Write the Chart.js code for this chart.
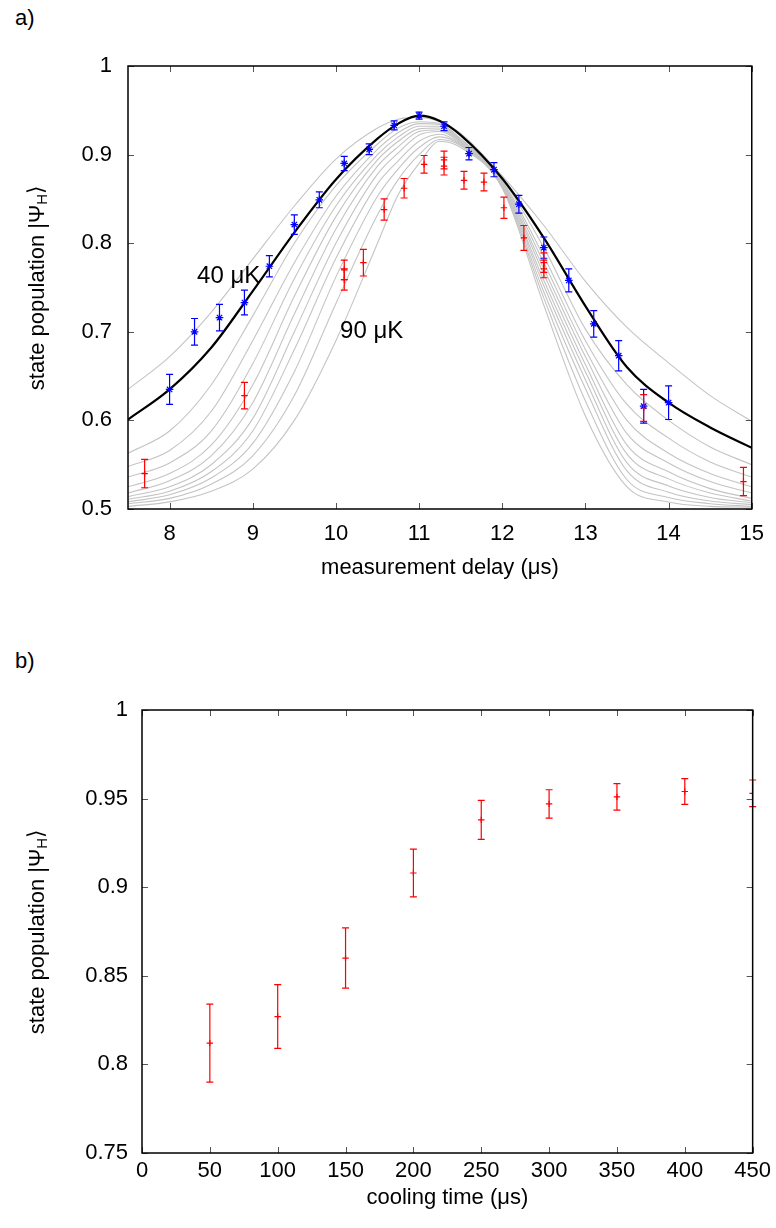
<!DOCTYPE html>
<html><head><meta charset="utf-8">
<script src="https://cdn.jsdelivr.net/npm/chart.js@4.4.1/dist/chart.umd.min.js"></script>
<style>
html,body{margin:0;padding:0;background:#fff;}
#wrap{position:relative;width:776px;height:1228px;overflow:hidden;}
canvas{position:absolute;left:0;}
#c1{top:0;}
#c2{top:640px;}
.lab{position:absolute;font-family:'Liberation Sans',Arial,sans-serif;font-size:22px;color:#000;}
</style></head><body>
<div id="wrap">
<div class="lab" style="left:15px;top:5px;">a)</div>
<div class="lab" style="left:15px;top:648px;">b)</div>
<canvas id="c1" width="776" height="600" style="width:776px;height:600px"></canvas>
<canvas id="c2" width="776" height="588" style="width:776px;height:588px"></canvas>
</div>
<script>
// ---------- panel a) data ----------
const curveT   = [7.5, 8, 8.5, 9, 9.5, 10, 10.5, 10.75, 11, 11.25, 11.5, 12, 12.5, 13, 13.5, 14, 14.5, 15];
const fitCurve = [0.601,0.635,0.682,0.746,0.812,0.872,0.918,0.935,0.944,0.938,0.922,0.873,0.806,0.729,0.660,0.620,0.592,0.569];
const curve40  = [0.635,0.672,0.722,0.782,0.842,0.895,0.930,0.940,0.942,0.937,0.924,0.876,0.820,0.757,0.705,0.665,0.628,0.599];
const curve45  = [0.563,0.588,0.640,0.718,0.800,0.865,0.912,0.930,0.937,0.935,0.918,0.872,0.795,0.703,0.640,0.600,0.570,0.550];
const curve50  = [0.548,0.566,0.610,0.690,0.778,0.853,0.906,0.925,0.935,0.934,0.917,0.870,0.785,0.690,0.618,0.580,0.553,0.536];
const curve55  = [0.536,0.552,0.588,0.664,0.760,0.842,0.900,0.920,0.932,0.932,0.916,0.869,0.778,0.680,0.600,0.563,0.540,0.525];
const curve60  = [0.525,0.540,0.572,0.640,0.740,0.830,0.894,0.915,0.929,0.930,0.915,0.868,0.771,0.672,0.585,0.552,0.531,0.518];
const curve65  = [0.518,0.532,0.560,0.620,0.720,0.816,0.887,0.909,0.926,0.928,0.914,0.867,0.765,0.663,0.572,0.542,0.523,0.512];
const curve70  = [0.514,0.525,0.550,0.602,0.700,0.800,0.878,0.902,0.922,0.926,0.913,0.866,0.758,0.655,0.562,0.534,0.518,0.509];
const curve75  = [0.511,0.520,0.542,0.588,0.680,0.783,0.867,0.893,0.915,0.923,0.912,0.865,0.752,0.646,0.552,0.526,0.513,0.507];
const curve80  = [0.508,0.516,0.535,0.574,0.655,0.762,0.853,0.884,0.908,0.920,0.911,0.864,0.745,0.636,0.543,0.519,0.509,0.505];
const curve85  = [0.506,0.512,0.528,0.560,0.628,0.732,0.832,0.872,0.900,0.917,0.910,0.863,0.738,0.622,0.533,0.513,0.506,0.503];
const curve90  = [0.503,0.508,0.520,0.545,0.600,0.690,0.800,0.855,0.890,0.915,0.908,0.862,0.730,0.605,0.525,0.508,0.503,0.502];

const blueX   = [8.0,8.3,8.6,8.9,9.2,9.5,9.8,10.1,10.4,10.7,11.0,11.3,11.6,11.9,12.2,12.5,12.8,13.1,13.4,13.7,14.0];
const blueY   = [0.635,0.700,0.716,0.733,0.774,0.821,0.849,0.890,0.906,0.933,0.944,0.932,0.901,0.883,0.844,0.795,0.758,0.709,0.673,0.616,0.620];
const blueErr = [0.017,0.015,0.015,0.014,0.012,0.011,0.009,0.008,0.006,0.005,0.004,0.005,0.007,0.008,0.010,0.012,0.013,0.015,0.017,0.019,0.019];

const redX   = [7.7,8.9,10.1,10.1,10.33,10.58,10.82,11.06,11.3,11.3,11.54,11.78,12.02,12.26,12.5,12.5,13.7,14.9];
const redY   = [0.540,0.628,0.770,0.759,0.778,0.838,0.862,0.889,0.894,0.887,0.871,0.869,0.840,0.806,0.778,0.771,0.614,0.531];
const redErr = [0.016,0.015,0.011,0.012,0.015,0.012,0.011,0.010,0.010,0.010,0.010,0.010,0.012,0.014,0.011,0.010,0.015,0.016];

const xTicksA = [8,9,10,11,12,13,14,15];
const xLabelsA = ['8','9','10','11','12','13','14','15'];
const yTicksA = [0.5,0.6,0.7,0.8,0.9,1];
const yLabelsA = ['0.5','0.6','0.7','0.8','0.9','1'];

// ---------- panel b) data ----------
const coolX   = [50,100,150,200,250,300,350,400,450];
const coolY   = [0.812,0.827,0.860,0.908,0.938,0.947,0.951,0.954,0.953];
const coolErr = [0.022,0.018,0.017,0.0135,0.011,0.008,0.0075,0.0073,0.0075];
const xTicksB = [0,50,100,150,200,250,300,350,400,450];
const xLabelsB = ['0','50','100','150','200','250','300','350','400','450'];
const yTicksB = [0.75,0.8,0.85,0.9,0.95,1];
const yLabelsB = ['0.75','0.8','0.85','0.9','0.95','1'];

const FONT = "'Liberation Sans', Arial, sans-serif";
const FS = 22;

function pts(xs, ys){ return xs.map((v,i)=>({x:v, y:ys[i]})); }

const framePlugin = {
  id:'frameTicks',
  afterDatasetsDraw(chart){
    const {ctx, chartArea:a, scales:{x,y}} = chart;
    ctx.save();
    chart.data.datasets.forEach(ds=>{
      if(!ds.errors) return;
      ctx.strokeStyle = ds.borderColor; ctx.lineWidth = 1.2;
      ds.data.forEach((p,j)=>{
        const px = x.getPixelForValue(p.x);
        const y1 = y.getPixelForValue(p.y + ds.errors[j]);
        const y2 = y.getPixelForValue(p.y - ds.errors[j]);
        const c = 3.5;
        ctx.beginPath();
        ctx.moveTo(px,y1); ctx.lineTo(px,y2);
        ctx.moveTo(px-c,y1); ctx.lineTo(px+c,y1);
        ctx.moveTo(px-c,y2); ctx.lineTo(px+c,y2);
        ctx.stroke();
      });
    });
    ctx.strokeStyle = '#555'; ctx.lineWidth = 1;
    const L = 6;
    x.ticks.forEach(t=>{
      const px = Math.round(x.getPixelForValue(t.value))+0.5;
      ctx.beginPath();
      ctx.moveTo(px,a.bottom); ctx.lineTo(px,a.bottom-L);
      ctx.moveTo(px,a.top); ctx.lineTo(px,a.top+L);
      ctx.stroke();
    });
    y.ticks.forEach(t=>{
      const py = Math.round(y.getPixelForValue(t.value))+0.5;
      ctx.beginPath();
      ctx.moveTo(a.left,py); ctx.lineTo(a.left+L,py);
      ctx.moveTo(a.right,py); ctx.lineTo(a.right-L,py);
      ctx.stroke();
    });
    ctx.strokeStyle = '#000'; ctx.lineWidth = 1.5;
    ctx.strokeRect(a.left, a.top, a.width, a.height);
    ctx.restore();
  },
  afterDraw(chart, args, opts){
    const {ctx, chartArea:a, scales:{x,y}} = chart;
    ctx.save();
    ctx.fillStyle = '#000';
    ctx.font = FS + 'px ' + FONT;
    ctx.textAlign = 'center'; ctx.textBaseline = 'middle';
    ctx.fillText(opts.xTitle, (a.left+a.right)/2, a.bottom + opts.xTitleOff);
    const main = 'state population |\u03A8', sub = 'H', close = '\u27E9';
    ctx.font = FS + 'px ' + FONT; const w1 = ctx.measureText(main).width;
    ctx.font = Math.round(FS*0.7) + 'px ' + FONT; const w2 = ctx.measureText(sub).width;
    ctx.font = FS + 'px ' + FONT; const w3 = ctx.measureText(close).width;
    const tot = w1+w2+w3;
    ctx.translate(opts.yTitleX, (a.top+a.bottom)/2);
    ctx.rotate(-Math.PI/2);
    ctx.textAlign = 'left'; ctx.textBaseline = 'middle';
    let sx = -tot/2;
    ctx.font = FS + 'px ' + FONT; ctx.fillText(main, sx, 0); sx += w1;
    ctx.font = Math.round(FS*0.7) + 'px ' + FONT; ctx.fillText(sub, sx, 5); sx += w2;
    ctx.font = FS + 'px ' + FONT; ctx.fillText(close, sx, -1);
    ctx.setTransform(1,0,0,1,0,0);
    if(opts.notes){
      ctx.font = '24px ' + FONT; ctx.textAlign='center'; ctx.textBaseline='middle';
      opts.notes.forEach(n=>{
        ctx.fillText(n.text, x.getPixelForValue(n.x), y.getPixelForValue(n.y));
      });
    }
    ctx.restore();
  }
};

function axisCfg(min, max, ticksArr, labelsArr, isX, size, pad){
  return {
    type:'linear', min:min, max:max,
    afterBuildTicks: s => { s.ticks = ticksArr.map(v=>({value:v})); },
    afterFit: s => { if(isX) s.height = size; else s.width = size; },
    grid:{display:false, drawTicks:false},
    border:{display:false},
    ticks:{
      autoSkip:false, maxRotation:0, padding:pad, color:'#000',
      font:{family:FONT, size:FS},
      callback:(v,i)=>labelsArr[i]
    }
  };
}

const greyList = [curve40,curve45,curve50,curve55,curve60,curve65,curve70,curve75,curve80,curve85,curve90];
const dsA = [
  {data:pts(blueX,blueY), errors:blueErr, showLine:false, borderColor:'#0000ff', backgroundColor:'#0000ff',
   pointStyle:'star', pointRadius:3.8, pointBorderWidth:1.2, order:0},
  {data:pts(redX,redY), errors:redErr, showLine:false, borderColor:'#ff0000', backgroundColor:'#ff0000',
   pointStyle:'cross', pointRadius:3.2, pointBorderWidth:1.2, order:0},
  {data:pts(curveT,fitCurve), borderColor:'#000', borderWidth:2.2, pointRadius:0, cubicInterpolationMode:'monotone', order:1}
];
greyList.forEach(c=>dsA.push({data:pts(curveT,c), borderColor:'#c4c4c4', borderWidth:1.1, pointRadius:0, cubicInterpolationMode:'monotone', order:2}));

new Chart(document.getElementById('c1'), {
  type:'line',
  data:{datasets:dsA},
  options:{
    responsive:false, animation:false, devicePixelRatio:1,
    layout:{padding:{left:0, right:23, top:66, bottom:0}},
    plugins:{legend:{display:false}, tooltip:{enabled:false},
      frameTicks:{xTitle:'measurement delay (\u03BCs)', xTitleOff:59, yTitleX:38,
        notes:[{text:'40 \u03BCK', x:8.71, y:0.763},{text:'90 \u03BCK', x:10.43, y:0.701}]}},
    scales:{
      x:axisCfg(7.5,15,xTicksA,xLabelsA,true,91,12),
      y:axisCfg(0.5,1,yTicksA,yLabelsA,false,128,16)
    }
  },
  plugins:[framePlugin]
});

new Chart(document.getElementById('c2'), {
  type:'line',
  data:{datasets:[
    {data:pts(coolX,coolY), errors:coolErr, showLine:false, borderColor:'#ff0000', backgroundColor:'#ff0000',
     pointStyle:'cross', pointRadius:3.2, pointBorderWidth:1.2}
  ]},
  options:{
    responsive:false, animation:false, devicePixelRatio:1,
    layout:{padding:{left:0, right:23, top:70, bottom:0}},
    plugins:{legend:{display:false}, tooltip:{enabled:false},
      frameTicks:{xTitle:'cooling time (\u03BCs)', xTitleOff:45, yTitleX:38}},
    scales:{
      x:axisCfg(0,450,xTicksB,xLabelsB,true,75,5),
      y:axisCfg(0.75,1,yTicksB,yLabelsB,false,142,14)
    }
  },
  plugins:[framePlugin]
});
</script>
</body></html>
